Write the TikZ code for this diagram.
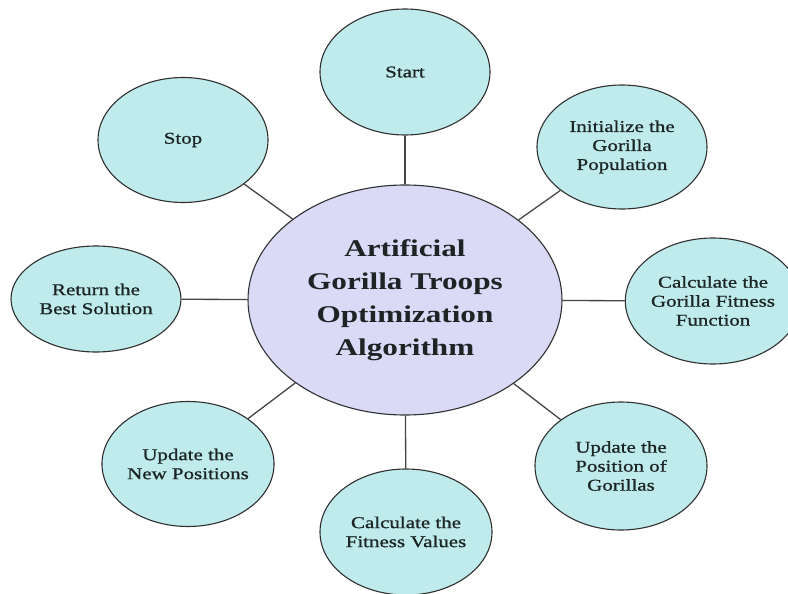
\documentclass[tikz,border=0pt]{standalone}
\usepackage{fontspec}
\setmainfont{Liberation Serif}[FakeStretch=1.3]
\newfontfamily\bubfont{Liberation Serif}[FakeStretch=1.27, FakeBold=0.9]
\usetikzlibrary{shapes.geometric}
\definecolor{cyanfill}{HTML}{BFEBEC}
\definecolor{lavfill}{HTML}{DADAF7}
\definecolor{edgegray}{HTML}{303030}
\definecolor{txt}{HTML}{1C2424}
\begin{document}
\begin{tikzpicture}[x=1pt,y=-1pt,
  bub/.style={ellipse, draw=edgegray, line width=1.1pt, fill=cyanfill, inner sep=0pt,
    align=center, text=txt, font=\bubfont\fontsize{16.5}{19}\selectfont},
  hub/.style={ellipse, draw=edgegray, line width=1.1pt, fill=lavfill, inner sep=0pt,
    align=center, text=txt, font=\fontsize{24}{33}\selectfont\bfseries},
  link/.style={draw=edgegray!90, line width=1.3pt}]
\useasboundingbox (0,0) rectangle (788,594);
\node[hub, minimum width=314pt, minimum height=230pt] (c) at (405,300)
  {Artificial\\Gorilla Troops\\Optimization\\Algorithm};
\node[bub, minimum width=170pt, minimum height=126pt] (start) at (405,72) {Start};
\node[bub, minimum width=170pt, minimum height=125pt] (stop) at (183,140) {Stop};
\node[bub, minimum width=170pt, minimum height=124pt] (init) at (622,147)
  {Initialize the\\Gorilla\\Population};
\node[bub, minimum width=170pt, minimum height=126pt] (calcgor) at (713,301)
  {Calculate the\\Gorilla Fitness\\Function};
\node[bub, minimum width=172pt, minimum height=128pt] (updpos) at (621,466)
  {Update the\\Position of\\Gorillas};
\node[bub, minimum width=172pt, minimum height=126pt] (calcfit) at (406,532)
  {Calculate the\\Fitness Values};
\node[bub, minimum width=162pt, minimum height=125pt] (updnew) at (188,464)
  {Update the\\New Positions};
\node[bub, minimum width=170pt, minimum height=106pt] (ret) at (96,299)
  {Return the\\Best Solution};
\foreach \n in {start,stop,init,calcgor,updpos,calcfit,updnew,ret}
  \draw[link] (c) -- (\n);
\end{tikzpicture}
\end{document}
